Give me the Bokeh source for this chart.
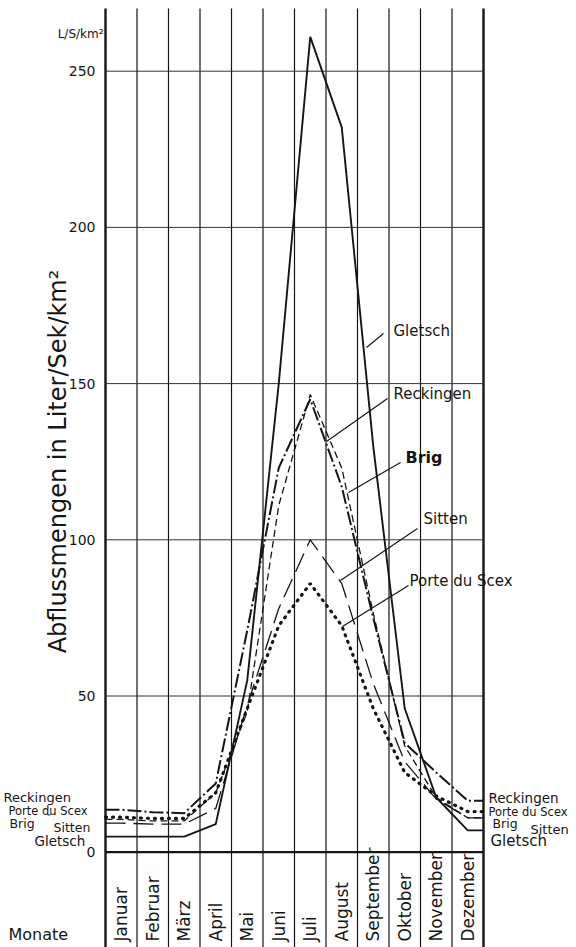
import math
from bokeh.plotting import figure
from bokeh.models import Range1d
from bokeh.core.properties import value
from bokeh.embed import file_html
from bokeh.resources import INLINE

# ---------------- data ----------------
months = ["Januar", "Februar", "März", "April", "Mai", "Juni", "Juli",
          "August", "September", "Oktober", "November", "Dezember"]
y_ticks = [0, 50, 100, 150, 200, 250]

gletsch = [5, 5, 5, 9, 55, 150, 261, 232, 130, 46, 17.5, 7]
reckingen = [13.6, 12.8, 12.5, 22, 71, 123, 145, 117, 75, 35, 25.5, 16.5]
brig = [10.5, 10, 10, 19, 45, 111, 146.5, 123, 76.5, 34, 17.5, 11]
sitten = [9.3, 9, 9, 14, 47, 78, 100, 86, 54, 29, 17, 11]
porte = [11.2, 10.8, 10.8, 19, 46, 72.5, 86, 72.5, 46, 25.5, 18, 13]

# ---------------- layout helpers (pixel -> data) ----------------
W, H = 576, 947
PX_AXIS = 105.0   # left axis pixel
COLW = 31.5       # month column width in px
PY_ZERO = 851.7   # pixel of value 0
KPX = 3.124       # px per unit


def ux(px):
    return (px - PX_AXIS) / COLW


def vy(py):
    return (PY_ZERO - py) / KPX


p = figure(width=W, height=H,
           x_range=Range1d(ux(0), ux(W)), y_range=Range1d(vy(H), vy(0)),
           output_backend="svg", toolbar_location=None, min_border=0,
           x_axis_type=None, y_axis_type=None)
p.outline_line_color = None
p.background_fill_color = "white"
p.border_fill_color = "white"

INK = "#151515"
FONT = value("DejaVu Sans")

# vertical month lines
n = len(months)
bounds = list(range(n + 1))
p.segment(x0=bounds, x1=bounds, y0=[vy(8)] * (n + 1), y1=[vy(H + 2)] * (n + 1),
          line_color=INK, line_width=[2.4 if i in (0, n) else 1.2 for i in bounds])

# horizontal grid lines
p.segment(x0=[0] * len(y_ticks), x1=[n] * len(y_ticks), y0=y_ticks, y1=y_ticks,
          line_color=[INK if t == 0 else "#333333" for t in y_ticks],
          line_width=[2.2 if t == 0 else 1.0 for t in y_ticks])

# curves
centers = [i + 0.5 for i in range(n)]
xs = [0] + centers + [n]


def ext(vals):
    return [vals[0]] + list(vals) + [vals[-1]]


p.line(xs, ext(gletsch), line_color=INK, line_width=1.9)
p.line(xs, ext(reckingen), line_color=INK, line_width=2.0, line_dash="14 3 2 3")
p.line(xs, ext(brig), line_color=INK, line_width=1.3, line_dash="7 4")
p.line(xs, ext(sitten), line_color=INK, line_width=1.3, line_dash="20 8")
p.line(xs, ext(porte), line_color=INK, line_width=3.2, line_dash="1 6", line_cap="round")


def label(txt, px, py, size, align="left", baseline="middle", angle=0.0, style="normal"):
    p.text(x=[ux(px)], y=[vy(py)], text=[txt], text_font=FONT,
           text_font_size=f"{size}px", text_align=align, text_baseline=baseline,
           angle=angle, text_font_style=style, text_color=INK)


# y tick labels
for t in y_ticks:
    p.text(x=[ux(95)], y=[t], text=[str(t)], text_font=FONT, text_font_size="14px",
           text_align="right", text_baseline="alphabetic", text_color=INK)

label("L/S/km²", 103, 33, 12, align="right")
label("Abflussmengen in Liter/Sek/km²", 57, 461, 24, align="center", angle=math.pi / 2)

# month labels (rotated)
p.text(x=centers, y=[vy(941)] * n, text=months, text_font=FONT, text_font_size="17px",
       text_align="left", text_baseline="middle", angle=math.pi / 2, text_color=INK)
label("Monate", 8, 934, 16)

# curve labels with pointers
pointers = [((366, 347), (383, 333)), ((326, 441), (387, 398)), ((348, 492), (400, 462)),
            ((340, 580), (417, 528)), ((342, 626), (408, 585))]
p.segment(x0=[ux(a[0]) for a, b in pointers], y0=[vy(a[1]) for a, b in pointers],
          x1=[ux(b[0]) for a, b in pointers], y1=[vy(b[1]) for a, b in pointers],
          line_color=INK, line_width=1.2)
label("Gletsch", 393, 330, 15)
label("Reckingen", 393, 393, 15)
label("Brig", 405, 457, 16, style="bold")
label("Sitten", 423, 518, 15)
label("Porte du Scex", 409, 580, 15)

# winter level labels, left
label("Reckingen", 3, 797, 13)
label("Porte du Scex", 8, 810, 11.5)
label("Brig", 9, 823, 12.5)
label("″", 47, 818, 10)
label("Sitten", 53, 827, 12.5)
label("Gletsch", 34, 840, 13.5)

# winter level labels, right
label("Reckingen", 488, 797, 13.5)
label("Porte du Scex", 488, 811, 11.5)
label("Brig", 492, 823, 12.5)
label("Sitten", 530, 829, 13)
label("Gletsch", 490, 840, 15)

open("out.html", "w").write(file_html(p, INLINE))
